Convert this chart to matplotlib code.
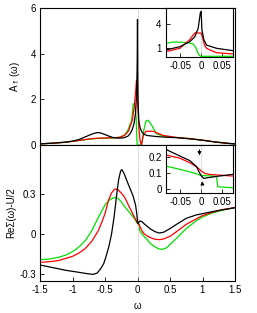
import numpy as np
import matplotlib
matplotlib.use("Agg")
import matplotlib.pyplot as plt

plt.rcParams['font.family'] = ['Liberation Sans', 'DejaVu Sans']
plt.rcParams['font.size'] = 7
plt.rcParams['mathtext.fontset'] = 'dejavusans'

# ---- main spectral function A(w) ----
w_a_black = [-1.5, -1.3, -1.1, -1.0, -0.9, -0.8, -0.7, -0.63, -0.58, -0.52, -0.45, -0.38, -0.3,
             -0.22, -0.15, -0.115, -0.08, -0.054, -0.03, -0.012, -0.004, 0.0, 0.004, 0.01, 0.02,
             0.04, 0.07, 0.1, 0.14, 0.29, 0.44, 0.6, 0.8, 1.0, 1.2, 1.4, 1.5]
a_black = [0.05, 0.08, 0.13, 0.17, 0.24, 0.36, 0.48, 0.54, 0.54, 0.48, 0.4, 0.33, 0.3,
           0.31, 0.38, 0.49, 0.68, 0.93, 1.4, 2.3, 3.8, 5.5, 3.0, 1.8, 1.08,
           0.75, 0.56, 0.47, 0.42, 0.37, 0.34, 0.32, 0.27, 0.21, 0.13, 0.07, 0.05]

w_a_red = [-1.5, -1.3, -1.1, -0.9, -0.73, -0.6, -0.47, -0.35, -0.27, -0.2, -0.14, -0.08, -0.05,
           -0.03, -0.015, -0.005, 0.0, 0.02, 0.04, 0.06, 0.09, 0.13, 0.24, 0.39, 0.6, 0.8, 1.0,
           1.2, 1.4, 1.5]
a_red = [0.05, 0.08, 0.12, 0.2, 0.27, 0.3, 0.31, 0.32, 0.34, 0.42, 0.6, 1.08, 1.66,
         2.3, 2.84, 2.6, 2.0, 0.8, 0.2, 0.0, 0.42, 0.6, 0.6, 0.42, 0.33, 0.28, 0.21,
         0.13, 0.07, 0.05]

w_a_green = [-1.5, -1.3, -1.1, -0.9, -0.73, -0.6, -0.47, -0.35, -0.27, -0.2, -0.15, -0.09,
             -0.065, -0.04, -0.02, -0.013, -0.005, 0.064, 0.09, 0.13, 0.165, 0.22, 0.29, 0.39,
             0.6, 0.8, 1.0, 1.2, 1.4, 1.5]
a_green = [0.05, 0.08, 0.12, 0.2, 0.26, 0.29, 0.3, 0.31, 0.34, 0.44, 0.64, 1.08,
           1.81, 1.73, 1.2, 0.5, 0.0, 0.0, 0.56, 1.05, 1.08, 0.86, 0.49, 0.4,
           0.33, 0.28, 0.21, 0.13, 0.07, 0.05]

# ---- inset of A(w) near w=0 ----
wi_a_black = [-0.085, -0.051, -0.027, -0.015, -0.007, -0.002, 0.0, 0.002, 0.0065, 0.013, 0.037, 0.077]
ai_black = [0.79, 1.2, 1.83, 2.45, 3.5, 5.4, 5.6, 3.3, 2.1, 1.4, 1.0, 0.7]
wi_a_red = [-0.085, -0.051, -0.027, -0.019, -0.013, -0.007, 0.0, 0.004, 0.008, 0.013, 0.021, 0.037, 0.077]
ai_red = [0.58, 1.0, 2.1, 2.66, 3.0, 2.9, 2.9, 2.25, 1.4, 1.0, 0.8, 0.45, 0.29]
wi_a_green = [-0.085, -0.064, -0.032, -0.019, -0.013, -0.009, -0.005, -0.001, 0.077]
ai_green = [1.62, 1.8, 1.7, 1.54, 1.12, 0.58, 0.16, 0.0, 0.0]

# ---- main Re Sigma(w) - U/2 ----
w_s_black = [-1.5, -1.3, -1.1, -0.9, -0.75, -0.68, -0.62, -0.57, -0.52, -0.48, -0.44, -0.4,
             -0.36, -0.32, -0.29, -0.26, -0.24, -0.21, -0.17, -0.12, -0.07, -0.03, -0.01, 0.0,
             0.01, 0.03, 0.07, 0.1, 0.15, 0.2, 0.27, 0.33, 0.4, 0.5, 0.6, 0.75, 0.9, 1.0, 1.2, 1.5]
s_black = [-0.23, -0.25, -0.27, -0.285, -0.297, -0.3, -0.29, -0.26, -0.22, -0.16, -0.09, 0.0,
           0.13, 0.3, 0.41, 0.475, 0.485, 0.46, 0.41, 0.35, 0.29, 0.22, 0.15, 0.09,
           0.08, 0.1, 0.095, 0.08, 0.06, 0.04, 0.02, 0.01, 0.015, 0.043, 0.075, 0.12, 0.145,
           0.155, 0.175, 0.2]
w_s_red = [-1.5, -1.35, -1.2, -1.1, -1.0, -0.9, -0.8, -0.7, -0.6, -0.55, -0.5, -0.45, -0.4,
           -0.35, -0.3, -0.25, -0.2, -0.15, -0.1, -0.05, 0.0, 0.02, 0.04, 0.07, 0.1, 0.15, 0.2,
           0.27, 0.33, 0.4, 0.5, 0.6, 0.75, 0.9, 1.0, 1.15, 1.3, 1.5]
s_red = [-0.21, -0.205, -0.195, -0.18, -0.165, -0.14, -0.105, -0.05, 0.03, 0.09, 0.155, 0.25,
         0.31, 0.34, 0.335, 0.31, 0.28, 0.23, 0.18, 0.13, 0.085, 0.075, 0.055, 0.025, 0.005,
         -0.012, -0.025, -0.037, -0.04, -0.035, -0.015, 0.02, 0.075, 0.115, 0.14, 0.165,
         0.185, 0.2]
w_s_green = [-1.5, -1.35, -1.2, -1.1, -1.0, -0.9, -0.8, -0.7, -0.6, -0.5, -0.45, -0.4, -0.35,
             -0.3, -0.25, -0.2, -0.15, -0.1, -0.05, 0.0, 0.03, 0.031, 0.06, 0.1, 0.15, 0.2,
             0.27, 0.33, 0.38, 0.45, 0.5, 0.6, 0.75, 0.9, 1.0, 1.15, 1.3, 1.5]
s_green = [-0.19, -0.185, -0.17, -0.155, -0.13, -0.095, -0.045, 0.03, 0.13, 0.22, 0.25, 0.268,
           0.275, 0.27, 0.245, 0.21, 0.18, 0.15, 0.12, 0.08, 0.075, 0.03, 0.01, -0.015, -0.04,
           -0.07, -0.095, -0.11, -0.113, -0.1, -0.077, -0.03, 0.043, 0.1, 0.13, 0.16, 0.18, 0.2]

# ---- inset of Re Sigma near w=0 ----
wi_s_black = [-0.085, -0.051, -0.027, -0.011, -0.005, 0.0, 0.0065, 0.013, 0.04, 0.077]
si_black = [0.244, 0.203, 0.175, 0.138, 0.107, 0.083, 0.067, 0.07, 0.08, 0.092]
wi_s_red = [-0.085, -0.051, -0.027, -0.011, 0.0, 0.009, 0.021, 0.077]
si_red = [0.21, 0.19, 0.162, 0.138, 0.113, 0.097, 0.091, 0.081]
wi_s_green = [-0.085, -0.051, -0.019, 0.0, 0.021, 0.037, 0.04, 0.077]
si_green = [0.142, 0.122, 0.101, 0.085, 0.082, 0.078, 0.016, 0.01]

BLACK, RED, GREEN = 'black', '#ff0000', '#00e000'
lw = 0.9

fig = plt.figure(figsize=(2.57, 3.13), dpi=100)
L, W = 40 / 257, 195 / 257
ax1 = fig.add_axes([L, 1 - 145 / 313, W, 137 / 313])
ax2 = fig.add_axes([L, 1 - 281 / 313, W, 136 / 313])

for ax in (ax1, ax2):
    ax.axvline(0, color='0.6', ls=':', lw=0.6)
    ax.set_xlim(-1.5, 1.5)
    ax.tick_params(direction='in', length=3, width=0.6, pad=3, labelsize=7)
    for s in ax.spines.values():
        s.set_linewidth(0.8)

ax1.plot(w_a_green, a_green, color=GREEN, lw=lw)
ax1.plot(w_a_red, a_red, color=RED, lw=lw)
ax1.plot(w_a_black, a_black, color=BLACK, lw=lw)
ax1.set_ylim(0, 6)
ax1.set_yticks([0, 2, 4, 6])
ax1.set_xticks([])
ax1.set_ylabel(r'A$_{\uparrow}$(ω)', labelpad=6)

ax2.plot(w_s_green, s_green, color=GREEN, lw=lw)
ax2.plot(w_s_red, s_red, color=RED, lw=lw)
ax2.plot(w_s_black, s_black, color=BLACK, lw=lw)
ax2.set_ylim(-0.35, 0.67)
ax2.set_yticks([-0.3, 0, 0.3])
ax2.set_yticklabels(['-0.3', '0', '0.3'])
ax2.set_xticks([-1.5, -1, -0.5, 0, 0.5, 1, 1.5])
ax2.set_xticklabels(['-1.5', '-1', '-0.5', '0', '0.5', '1', '1.5'])
ax2.set_ylabel('ReΣ(ω)-U/2', labelpad=2)
ax2.set_xlabel('ω', labelpad=4)

# insets
IL, IW = 165.7 / 257, 67.5 / 257
in1 = fig.add_axes([IL, 1 - 56.7 / 313, IW, 49.2 / 313])
in2 = fig.add_axes([IL, 1 - 192.7 / 313, IW, 47.7 / 313])
for ax in (in1, in2):
    ax.axvline(0, color='0.6', ls=':', lw=0.6)
    ax.set_xlim(-0.085, 0.077)
    ax.set_xticks([-0.05, 0, 0.05])
    ax.set_xticklabels(['-0.05', '0', '0.05'])
    ax.tick_params(direction='in', length=3, width=0.6, pad=3, labelsize=7)
    for s in ax.spines.values():
        s.set_linewidth(0.8)

in1.plot(wi_a_green, ai_green, color=GREEN, lw=lw)
in1.plot(wi_a_red, ai_red, color=RED, lw=lw)
in1.plot(wi_a_black, ai_black, color=BLACK, lw=lw)
in1.set_ylim(-0.05, 6.1)
in1.set_yticks([1, 4])

in2.plot(wi_s_green, si_green, color=GREEN, lw=lw)
in2.plot(wi_s_red, si_red, color=RED, lw=lw)
in2.plot(wi_s_black, si_black, color=BLACK, lw=lw)
in2.set_ylim(-0.02, 0.27)
in2.set_yticks([0, 0.1, 0.2])
in2.set_yticklabels(['0', '0.1', '0.2'])
in2.annotate('', xy=(-0.004, 0.19), xytext=(-0.004, 0.258),
             arrowprops=dict(arrowstyle='-|>', color='black', lw=0.7, mutation_scale=5))
in2.annotate('', xy=(0.003, 0.067), xytext=(0.003, 0.016),
             arrowprops=dict(arrowstyle='-|>', color='black', lw=0.7, mutation_scale=5))

fig.savefig('out.png', dpi=100)
